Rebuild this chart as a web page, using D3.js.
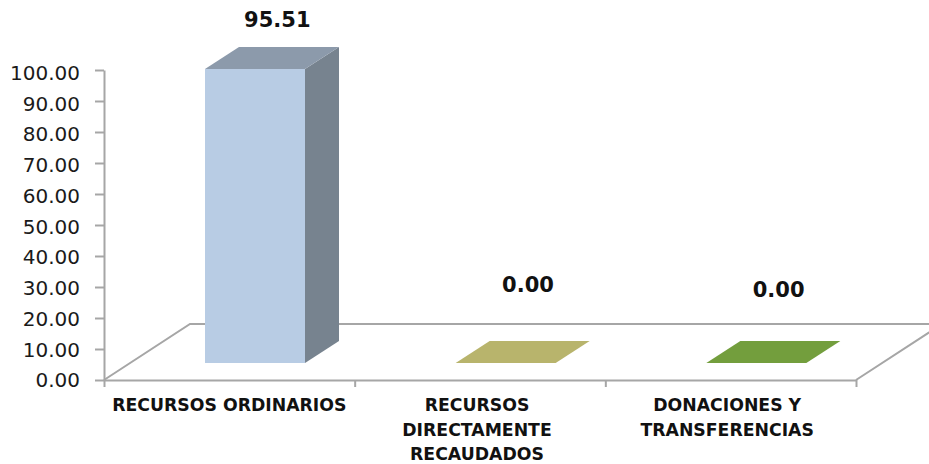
<!DOCTYPE html>
<meta charset="utf-8">
<head>
	<style type="text/css">
		body { margin: 0; background: #fff; }
		svg { display: block; }
		text { font-family: "DejaVu Sans", sans-serif; fill: #1a1a1a; }
		.value { font-weight: bold; font-size: 21px; fill: #111; text-anchor: middle; }
		.cat { font-weight: bold; font-size: 17.3px; fill: #111; text-anchor: middle; }
		.axis text { font-size: 20px; }
		.axis path, .axis line, .floor { stroke: #a6a6a6; stroke-width: 2; fill: none; }
	</style>
	<title>Recursos</title>
</head>

<script src="https://d3js.org/d3.v7.min.js"></script>

<svg width="929" height="464" id="svg1"></svg>

<script>
	// data
	const categories = ['RECURSOS ORDINARIOS', 'RECURSOS DIRECTAMENTE RECAUDADOS', 'DONACIONES Y TRANSFERENCIAS'];
	const catLines = [['RECURSOS ORDINARIOS'], ['RECURSOS', 'DIRECTAMENTE', 'RECAUDADOS'], ['DONACIONES Y', 'TRANSFERENCIAS']];
	const values = [95.51, 0, 0];
	const yTicks = [0, 10, 20, 30, 40, 50, 60, 70, 80, 90, 100];
	const frontColors = ['#b8cce4', '#b8b46c', '#739e3d'];
	const topColors = ['#8c9aab', '#b8b46c', '#739e3d'];
	const sideColors = ['#77838f', '#b8b46c', '#739e3d'];

	const svg1 = d3.select('#svg1');

	// plot box and the fake 3d depth
	const plotLeft = 104, plotRight = 856, plotBottom = 380, plotTop = 70;
	const floorDx = 86, floorDy = 56;
	const barDx = 34, barDy = 22;
	const barBase = 363, barInset = 101, barWidth = 100;

	const x = d3.scaleBand().domain(categories).range([plotLeft, plotRight]);
	const y = d3.scaleLinear().domain([0, 100]).range([plotBottom, plotTop]);
	// bars sit forward of the axis plane, so same scale shifted and a bit squeezed
	const barY = d3.scaleLinear().domain([0, 100]).range([barBase, barBase - 307.8]);
	const tickX = d3.scaleLinear().domain([0, 3]).range([plotLeft, plotRight]);

	// floor
	svg1.append('path')
		.attr('class', 'floor')
		.attr('d', d3.line()([
			[plotLeft, plotBottom],
			[plotLeft + floorDx, plotBottom - floorDy],
			[plotRight + floorDx, plotBottom - floorDy],
			[plotRight, plotBottom]
		]));

	// axes
	const yAxis = svg1.append('g')
		.attr('class', 'axis')
		.attr('transform', `translate(${plotLeft},0)`)
		.call(d3.axisLeft(y).tickValues(yTicks).tickFormat(d3.format('.2f')).tickSize(9).tickPadding(15).tickSizeOuter(0));

	// the tick labels drift down from their ticks towards the top of the axis
	yAxis.selectAll('.tick text').attr('y', d => 0.5 + d * 0.025);

	svg1.append('g')
		.attr('class', 'axis')
		.attr('transform', `translate(0,${plotBottom})`)
		.call(d3.axisBottom(tickX).ticks(3).tickFormat('').tickSize(7).tickSizeOuter(0));

	// bars
	const bars = svg1.selectAll('g.bar')
		.data(categories)
		.enter()
		.append('g')
		.attr('class', 'bar');

	bars.append('rect')
		.attr('x', d => x(d) + barInset)
		.attr('y', (d, i) => barY(values[i]))
		.attr('width', barWidth)
		.attr('height', (d, i) => barBase - barY(values[i]))
		.attr('fill', (d, i) => frontColors[i]);

	bars.append('polygon')
		.attr('fill', (d, i) => sideColors[i])
		.attr('points', (d, i) => {
			const x1 = x(d) + barInset + barWidth, yt = barY(values[i]);
			return [[x1, yt], [x1 + barDx, yt - barDy], [x1 + barDx, barBase - barDy], [x1, barBase]].join(' ');
		});

	bars.append('polygon')
		.attr('fill', (d, i) => topColors[i])
		.attr('points', (d, i) => {
			const x0 = x(d) + barInset, yt = barY(values[i]);
			return [[x0, yt], [x0 + barDx, yt - barDy], [x0 + barWidth + barDx, yt - barDy], [x0 + barWidth, yt]].join(' ');
		});

	// value labels float at their own heights in the original
	const labelLift = [42, 71, 66];
	svg1.selectAll('text.value')
		.data(values)
		.enter()
		.append('text')
		.attr('class', 'value')
		.attr('x', (d, i) => x(categories[i]) + x.bandwidth() / 2 + 48)
		.attr('y', (d, i) => barY(d) - labelLift[i])
		.text(d => d3.format('.2f')(d));

	// category labels
	const labelShift = [0, -3, -3.5];
	const cats = svg1.selectAll('text.cat')
		.data(categories)
		.enter()
		.append('text')
		.attr('class', 'cat');

	cats.selectAll('tspan')
		.data((d, i) => catLines[i].map(t => ({ t, cx: x(d) + x.bandwidth() / 2 + labelShift[i] })))
		.enter()
		.append('tspan')
		.attr('x', d => d.cx)
		.attr('y', (d, i) => 411 + i * 24.5)
		.text(d => d.t);
</script>
